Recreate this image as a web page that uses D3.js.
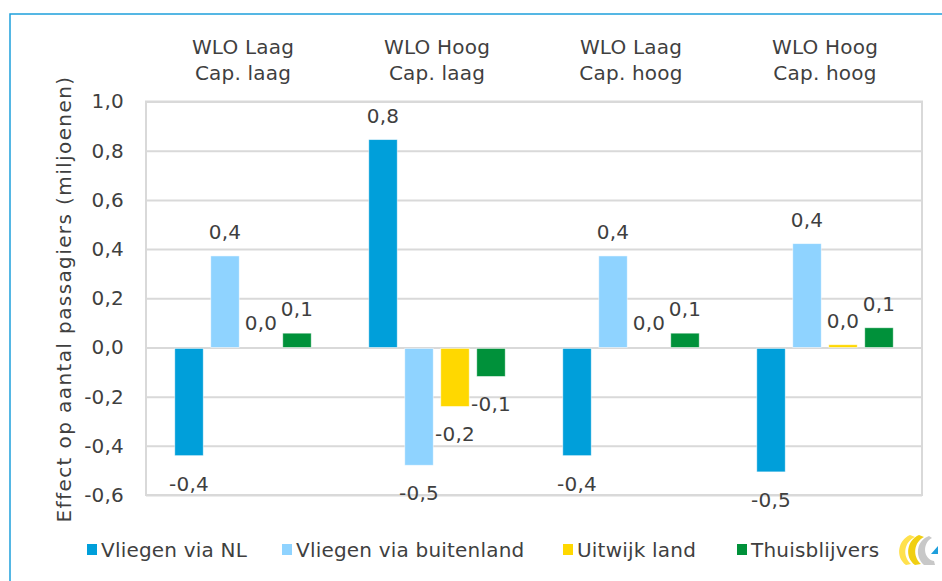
<!DOCTYPE html>
<html>
<head>
<meta charset="utf-8">
<script src="https://cdn.jsdelivr.net/npm/d3@7"></script>
<style>
  html, body { margin: 0; padding: 0; background: #fff; }
  svg text { font-family: "DejaVu Sans", sans-serif; fill: #3f3f3f; letter-spacing: 0.2px; }
</style>
</head>
<body>
<svg width="942" height="581"></svg>
<script>
// scenario groups (two title lines each)
var groups = ["g1", "g2", "g3", "g4"];
var groupLine1 = ["WLO Laag", "WLO Hoog", "WLO Laag", "WLO Hoog"];
var groupLine2 = ["Cap. laag", "Cap. laag", "Cap. hoog", "Cap. hoog"];

var seriesNames = ["Vliegen via NL", "Vliegen via buitenland", "Uitwijk land", "Thuisblijvers"];
var vliegenNL = [-0.44, 0.845, -0.44, -0.506];
var vliegenBuitenland = [0.372, -0.479, 0.372, 0.422];
var uitwijkLand = [0.0, -0.24, 0.0, 0.011];
var thuisblijvers = [0.058, -0.118, 0.058, 0.08];
var seriesColors = ["#009fda", "#8fd3ff", "#ffd800", "#00913a"];

var yTicks = [1.0, 0.8, 0.6, 0.4, 0.2, 0.0, -0.2, -0.4, -0.6];

var seriesValues = [vliegenNL, vliegenBuitenland, uitwijkLand, thuisblijvers];

var svg = d3.select("svg"),
	width = +svg.attr("width"),
	height = +svg.attr("height");

var fmt = function(v) { return d3.format(".1f")(v).replace(".", ",").replace("−", "-"); };

var plot = {left: 146, right: 922, top: 101.5, bottom: 495};
var fs = 20;

var x0 = d3.scaleBand().domain(groups).range([plot.left, plot.right]);
var x1 = d3.scaleBand().domain(d3.range(seriesNames.length))
	.range([0, x0.bandwidth()]).paddingInner(0.21).paddingOuter(0.8);
var y = d3.scaleLinear().domain([-0.6, 1.0]).range([plot.bottom, plot.top]);

// outer blue frame
svg.append("rect").attr("x", 10).attr("y", 14).attr("width", 960).attr("height", 600)
	.attr("fill", "none").attr("stroke", "#1ea0dc").attr("stroke-width", 1.5);

// gridlines
var grid = svg.append("g").attr("transform", "translate(" + plot.left + ",0)")
	.call(d3.axisLeft(y).tickValues(yTicks).tickSize(-(plot.right - plot.left)).tickFormat(""));
grid.select(".domain").remove();
grid.selectAll("line").attr("stroke", "#d9d9d9").attr("stroke-width", 2);

svg.append("rect").attr("x", plot.left).attr("y", plot.top)
	.attr("width", plot.right - plot.left).attr("height", plot.bottom - plot.top)
	.attr("fill", "none").attr("stroke", "#d9d9d9").attr("stroke-width", 2);

// tick labels
var yAxis = svg.append("g").attr("transform", "translate(124,0)")
	.call(d3.axisLeft(y).tickValues(yTicks).tickSize(0).tickPadding(0).tickFormat(fmt));
yAxis.select(".domain").remove();
yAxis.selectAll("text").attr("font-size", fs).style("font-family", "DejaVu Sans").attr("fill", "#3f3f3f");

// y title
svg.append("text")
	.attr("transform", "translate(71,299) rotate(-90)")
	.attr("text-anchor", "middle").attr("font-size", fs)
	.style("letter-spacing", "1.4px")
	.text("Effect op aantal passagiers (miljoenen)");

// group titles
var titles = svg.append("g").selectAll("g").data(groups).enter().append("g")
	.attr("transform", function(d) { return "translate(" + (x0(d) + x0.bandwidth() / 2) + ",0)"; });
titles.append("text").attr("y", 54).attr("text-anchor", "middle").attr("font-size", fs)
	.text(function(d, i) { return groupLine1[i]; });
titles.append("text").attr("y", 80).attr("text-anchor", "middle").attr("font-size", fs)
	.text(function(d, i) { return groupLine2[i]; });

// bars
var rows = [];
groups.forEach(function(g, gi) {
	seriesValues.forEach(function(vals, si) {
		rows.push({group: g, s: si, value: vals[gi]});
	});
});

var bars = svg.append("g").selectAll("g").data(rows).enter().append("g")
	.attr("transform", function(d) { return "translate(" + (x0(d.group) + x1(d.s)) + ",0)"; });

bars.append("rect")
	.attr("x", 0)
	.attr("width", x1.bandwidth())
	.attr("y", function(d) { return d.value >= 0 ? y(d.value) : y(0) + 1; })
	.attr("height", function(d) { return Math.max(0, Math.abs(y(d.value) - y(0)) - (d.value < 0 ? 1 : 0)); })
	.attr("fill", function(d) { return seriesColors[d.s]; })
	.attr("stroke", "#ffffff").attr("stroke-opacity", 0.6).attr("stroke-width", 0.8);

bars.append("text")
	.attr("x", x1.bandwidth() / 2)
	.attr("y", function(d) { return d.value >= 0 ? y(d.value) - 17 : y(d.value) + 35; })
	.attr("text-anchor", "middle").attr("font-size", fs)
	.text(function(d) { return fmt(d.value); });

// legend
var legendX = [87, 282, 563, 737];
var legend = svg.append("g").selectAll("g").data(seriesNames).enter().append("g")
	.attr("transform", function(d, i) { return "translate(" + legendX[i] + ",0)"; });
legend.append("rect").attr("x", 0).attr("y", 544).attr("width", 10).attr("height", 11)
	.attr("fill", function(d, i) { return seriesColors[i]; });
legend.append("text").attr("x", 14).attr("y", 557).attr("font-size", fs).text(function(d) { return d; });

// logo
var logo = svg.append("g").attr("transform", "translate(897,534)");
logo.append("path").attr("d", "M13,1 C1,6 -2,23 9,31 L14,30 C5,22 7,8 18,3 Z").attr("fill", "#ffe14d");
logo.append("path").attr("d", "M22,1 C10,6 7,23 18,31 L24,30 C15,22 17,8 27,3 Z").attr("fill", "#f0cf12");
logo.append("path").attr("d", "M32,2 C20,6 17,22 27,31 L38,31 L37,27 C26,25 25,9 35,4 Z").attr("fill", "#c8c8c8");
logo.append("path").attr("d", "M34,20 L41,12 L41,20 Z").attr("fill", "#1e9fdc");
</script>
</body>
</html>
